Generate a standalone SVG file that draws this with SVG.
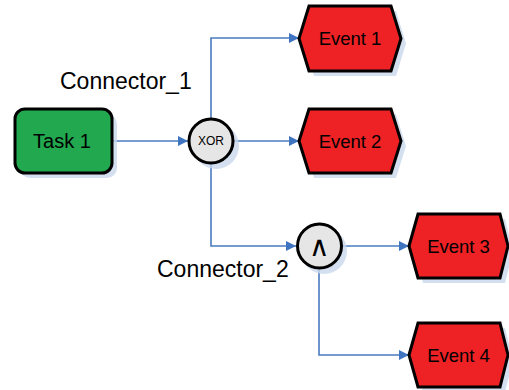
<svg xmlns="http://www.w3.org/2000/svg" width="509" height="390" viewBox="0 0 509 390">
<defs>
<style>
.shadow{fill:#c9d7ec;opacity:0.8}
.task{fill:#22a94f;stroke:#000;stroke-width:3}
.event{fill:#ee2124;stroke:#000;stroke-width:3;stroke-linejoin:miter}
.conn{fill:#e6e6e6;stroke:#000;stroke-width:3}
.edge{fill:none;stroke:#4a7bbf;stroke-width:1.6}
.lbl{font-family:"Liberation Sans",Arial,sans-serif;fill:#000}
</style>
<marker id="arr" viewBox="0 0 10 10" refX="10" refY="5" markerWidth="10" markerHeight="10" markerUnits="userSpaceOnUse" orient="auto">
<path d="M0,0 L10,5 L0,10 z" fill="#3f74c0"/>
</marker>
</defs>
<rect width="509" height="390" fill="#fff"/>
<g id="edges">
<path class="edge" d="M112,141 H188" marker-end="url(#arr)"/>
<path class="edge" d="M211,118 V38 H299" marker-end="url(#arr)"/>
<path class="edge" d="M234,141 H299" marker-end="url(#arr)"/>
<path class="edge" d="M211,164 V246 H296" marker-end="url(#arr)"/>
<path class="edge" d="M343,246 H409" marker-end="url(#arr)"/>
<path class="edge" d="M319,269 V355 H409" marker-end="url(#arr)"/>
</g>
<g id="task1">
<rect class="shadow" x="20" y="114" width="97" height="64" rx="10"/>
<rect class="task" x="15" y="109" width="97" height="64" rx="10"/>
<text class="lbl" x="62" y="148" font-size="20" text-anchor="middle">Task 1</text>
</g>
<g id="xor">
<circle class="shadow" cx="216" cy="146" r="23"/>
<circle class="conn" cx="211" cy="141" r="22"/>
<text class="lbl" x="211" y="145" font-size="12" text-anchor="middle">XOR</text>
<text class="lbl" x="60" y="89" font-size="23">Connector_1</text>
</g>
<g id="and">
<circle class="shadow" cx="324" cy="251" r="23"/>
<circle class="conn" cx="319.5" cy="246" r="22"/>
<text x="319.5" y="256" font-size="28" font-weight="200" text-anchor="middle" style="font-family:'DejaVu Sans',sans-serif">∧</text>
<text class="lbl" x="157" y="277" font-size="23">Connector_2</text>
</g>
<g id="event1">
<polygon class="shadow" points="304,43.5 314,11 396,11 406,43.5 396,76 314,76"/>
<polygon class="event" points="299,38.5 309,6 391,6 401,38.5 391,71 309,71"/>
<text class="lbl" x="350" y="45" font-size="18.5" text-anchor="middle">Event 1</text>
</g>
<g id="event2">
<polygon class="shadow" points="304,146 314,114 396,114 406,146 396,178 314,178"/>
<polygon class="event" points="299,141 309,109 391,109 401,141 391,173 309,173"/>
<text class="lbl" x="350" y="147.5" font-size="18.5" text-anchor="middle">Event 2</text>
</g>
<g id="event3">
<polygon class="shadow" points="414,251 423,219 505,219 513,251 505,283 423,283"/>
<polygon class="event" points="409,246 418,214 500,214 508,246 500,278 418,278"/>
<text class="lbl" x="458.5" y="252.5" font-size="18.5" text-anchor="middle">Event 3</text>
</g>
<g id="event4">
<polygon class="shadow" points="414,360 423,328 505,328 513,360 505,392 423,392"/>
<polygon class="event" points="409,355 418,323 500,323 508,355 500,387 418,387"/>
<text class="lbl" x="458.5" y="361.5" font-size="18.5" text-anchor="middle">Event 4</text>
</g>
</svg>
